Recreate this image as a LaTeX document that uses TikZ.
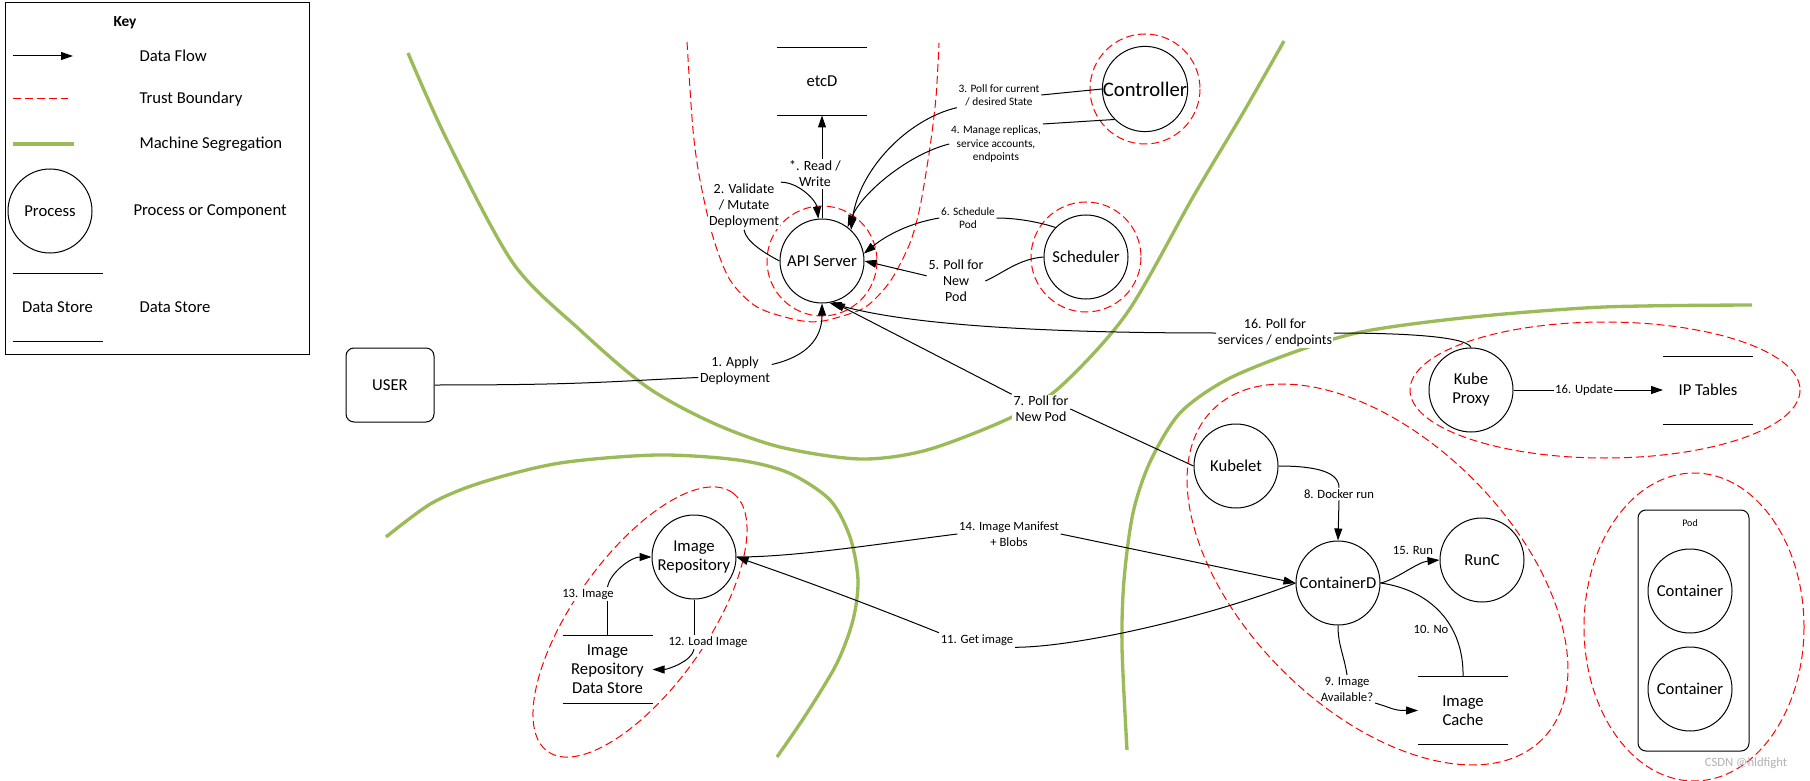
\documentclass[tikz,border=0pt]{standalone}
\usepackage{fontspec}
\setmainfont{Carlito}
\usepackage{tikz}
\usetikzlibrary{arrows.meta}
\definecolor{seggreen}{HTML}{9BBB59}
\def\storelines(#1){\draw (#1.north west) -- (#1.north east) (#1.south west) -- (#1.south east);}

\begin{document}
\begin{tikzpicture}[x=0.75pt, y=-0.75pt, line width=0.75pt,
		font=\fontsize{12.5}{14.25}\selectfont,
		process/.style={draw, circle, minimum size=63pt, inner sep=0pt, align=center},
		store/.style={minimum width=66.75pt, minimum height=50.25pt, inner sep=0pt, align=center},
		flow/.style={-{Triangle[length=9pt,width=6pt]}},
		trust/.style={red, dash pattern=on 6pt off 3pt, line width=0.75pt},
		machine/.style={seggreen, line width=2.5pt},
		keytext/.style={anchor=west, inner sep=0pt},
		lbl/.style={fill=white, inner sep=1pt, align=center, font=\fontsize{10.5}{12}\selectfont},
		lblsmall/.style={lbl, font=\fontsize{9.5}{12}\selectfont},
		lbltiny/.style={lbl, font=\fontsize{8.5}{10}\selectfont}]
		%%%%% START %%%%%
		
		\useasboundingbox (0,0) rectangle (1810,781);
		
		% key
		\draw (5,3) rectangle (309,354);
		\node[font=\bfseries\fontsize{11.5}{14}\selectfont] (keytitle) at (125,23) {Key};
		\coordinate (kflowa) at (13,56);
		\coordinate (kflowb) at (73,56);
		\draw[flow] (kflowa) -- (kflowb);
		\node[keytext] (kflow) at (139,56) {Data Flow};
		\coordinate (ktrusta) at (13,99);
		\coordinate (ktrustb) at (68,99);
		\draw[trust] (ktrusta) -- (ktrustb);
		\node[keytext] (ktrust) at (139,99) {Trust Boundary};
		\coordinate (kmacha) at (13,144);
		\coordinate (kmachb) at (74,144);
		\draw[machine] (kmacha) -- (kmachb);
		\node[keytext] (kmach) at (139,144) {Machine Segregation};
		\node[process] (kproc) at (50,211) {Process};
		\node[keytext] (kproctxt) at (133,211) {Process or Component};
		\node[store] (kstore) at (57.5,307) {Data Store};
		\storelines(kstore)
		\node[keytext] (kstoretxt) at (139,307) {Data Store};
		
		% machine segregation
		\draw[machine] plot[smooth] coordinates {(408,53) (447,140) (513,263) (580,330) (647,387) (713,423) (780,447) (860,459) (927,450) (1010,418) (1060,387) (1127,313) (1193,197) (1243,113) (1284,41)};
		\draw[machine] plot[smooth] coordinates {(386,537) (432,503) (483,482) (560,463) (657,455) (738,460) (789,473) (830,500) (850,537) (858,580) (853,620) (837,663) (807,713) (777,757)};
		\draw[machine] plot[smooth] coordinates {(1752,305) (1604,307) (1472,317) (1366,331) (1300,350) (1228,379) (1180,413) (1150,462) (1133,513) (1124,580) (1122,647) (1127,750)};
		
		% trust boundaries
		\draw[trust] plot[smooth] coordinates {(687,42) (693,130) (700,180) (713,237) (730,280) (757,307) (797,320) (823,321) (860,310) (877,297) (893,277) (910,243) (920,207) (930,147) (936,97) (939,43)};
		\draw[trust, rotate around={54.5:(640,622)}] (640,622) ellipse [x radius=159, y radius=66.5];
		\draw[trust, rotate around={-45:(1377.5,574.5)}] (1377.5,574.5) ellipse [x radius=233, y radius=135];
		\draw[trust] (1605,390) ellipse [x radius=195, y radius=68];
		\draw[trust] (1694,627) ellipse [x radius=110, y radius=154];
		
		% processes and stores
		\node[store] (etcd) at (822,81.5) {etcD};
		\storelines(etcd)
		\node[process] (api) at (822,261) {API Server};
		\node[process, font=\fontsize{15.5}{18}\selectfont] (ctrl) at (1145,89) {Controller};
		\node[process] (sched) at (1086,257) {Scheduler};
		\draw[trust] (api.center) circle (55);
		\draw[trust] (ctrl.center) circle (55);
		\draw[trust] (sched.center) circle (55);
		\node[draw, rounded corners=6pt, minimum width=66pt, minimum height=55.5pt] (user) at (390,385) {USER};
		\node[process] (kubelet) at (1236,466) {Kubelet};
		\node[process] (ctrd) at (1338,583) {ContainerD};
		\node[process] (runc) at (1482,560) {RunC};
		\node[process] (kproxy) at (1471,390) {Kube\\Proxy};
		\node[store] (iptables) at (1708,390) {IP Tables};
		\storelines(iptables)
		\node[process] (imgrepo) at (694,557) {Image\\Repository};
		\node[store] (imgstore) at (607.5,669.5) {Image\\Repository\\Data Store};
		\storelines(imgstore)
		\node[store] (imgcache) at (1463,710.5) {Image\\Cache};
		\storelines(imgcache)
		\node[draw, rounded corners=6pt, minimum width=83.25pt, minimum height=180.75pt] (pod) at (1693.5,630.5) {};
		\node[font=\fontsize{7.5}{9}\selectfont] (podlbl) at (1690,523) {Pod};
		\node[process] (ctra) at (1690,591) {Container};
		\node[process] (ctrb) at (1690,689) {Container};
		
		% labels
		\node[lbl] (l1) at (735,371) {1. Apply\\Deployment};
		\node[lbl] (l2) at (744,206) {2. Validate\\/ Mutate\\Deployment};
		\node[lbl] (lrw) at (815,174) {*. Read /\\Write};
		\node[lbltiny] (l3) at (999,95) {3. Poll for current\\/ desired State};
		\node[lbltiny] (l4) at (996,144) {4. Manage replicas,\\service accounts,\\endpoints};
		\node[lbl] (l5) at (956,281) {5. Poll for\\New\\Pod};
		\node[lbltiny] (l6) at (968,218) {6. Schedule\\Pod};
		\node[lbl] (l7) at (1041,409) {7. Poll for\\New Pod};
		\node[lblsmall] (l8) at (1339,494) {8. Docker run};
		\node[lblsmall] (l9) at (1347,689) {9. Image\\Available?};
		\node[lblsmall] (l10) at (1431,629) {10. No};
		\node[lblsmall] (l11) at (977,640) {11. Get image};
		\node[lblsmall] (l12) at (708,642) {12. Load Image};
		\node[lblsmall] (l13) at (588,594) {13. Image};
		\node[lblsmall] (l14) at (1009,534) {14. Image Manifest\\+ Blobs};
		\node[lblsmall] (l15) at (1413,550) {15. Run};
		\node[lbl] (l16) at (1275,333) {16. Poll for\\services / endpoints};
		\node[lblsmall, inner sep=0.5pt] (lupd) at (1584,390) {16. Update};
		
		% data flows
		\draw (user.east) .. controls +(150,0) and +(-90,4) .. (l1.190);
		\draw[flow] (l1.10) .. controls +(35,-8) and +(0,35) .. (api.south);
		
		\draw (api.west) .. controls +(-15,-8) and +(2,12) .. (l2.south);
		\draw[flow] (l2.north east) .. controls +(18,0) and +(-2,-18) .. (api.95);
		
		\draw (api.north) -- (api.north |- lrw.south);
		\draw[flow] (api.north |- lrw.north) -- (etcd.south);
		
		\draw (ctrl.west) -- (l3.east);
		\draw[flow] (l3.south west) .. controls +(-50,12) and +(8,-60) .. (api.47);
		\draw (ctrl.225) -- (l4.north east);
		\draw[flow] (l4.west) .. controls +(-40,10) and +(15,-35) .. (api.53);
		
		\draw (sched.west) .. controls +(-25,2) and +(18,-8) .. (l5.east);
		\draw[flow] (l5.170) -- (api.east);
		\draw (sched.136) .. controls +(-18,-6) and +(18,0) .. (l6.east);
		\draw[flow] (l6.west) .. controls +(-30,5) and +(22,-18) .. (api.10);
		
		\draw[flow] (l7.north west) -- (api.285);
		\draw (l7.east) -- (kubelet.west);
		
		\draw (kproxy.north) .. controls +(-5,-12) and +(60,0) .. (l16.east);
		\draw[flow] (l16.west) .. controls +(-260,0) and +(45,12) .. (api.280);
		\draw (kproxy.east) -- (lupd.west);
		\draw[flow] (lupd.east) -- (iptables.west);
		
		\draw (kubelet.east) .. controls +(40,0) and +(0,-15) .. (l8.north);
		\draw[flow] (l8.south) -- (ctrd.north);
		\draw[flow] (ctrd.east) .. controls +(15,-3) and +(-22,2) .. (runc.west);
		\draw (ctrd.east) .. controls +(50,7) and +(1,-52) .. (imgcache.north);
		\draw (ctrd.south) .. controls +(0,20) and +(-3,-20) .. (l9.north);
		\draw[flow] (l9.south east) .. controls +(20,6) and +(-25,0) .. (imgcache.west);
		
		\draw[flow] (l14.east) -- (ctrd.west);
		\draw (l14.west) .. controls +(-80,10) and +(60,0) .. (imgrepo.east);
		\draw (ctrd.west) .. controls +(-90,35) and +(60,0) .. (l11.south east);
		\draw[flow] (l11.north west) .. controls +(-100,-40) and +(40,14) .. (imgrepo.east);
		
		\draw (imgrepo.south) -- (imgrepo.south |- l12.north);
		\draw[flow] (imgrepo.south |- l12.south) .. controls +(-2,12) and +(15,0) .. (imgstore.east);
		\draw (imgstore.north) -- (imgstore.north |- l13.south);
		\draw[flow] (imgstore.north |- l13.north) .. controls +(3,-15) and +(-20,0) .. (imgrepo.west);
		
		\node[text=black!30, font=\fontsize{9.5}{11}\selectfont] (mark) at (1746,763) {CSDN @hldfight};
		
		%%%%% END %%%%%
	\end{tikzpicture}
\end{document}
